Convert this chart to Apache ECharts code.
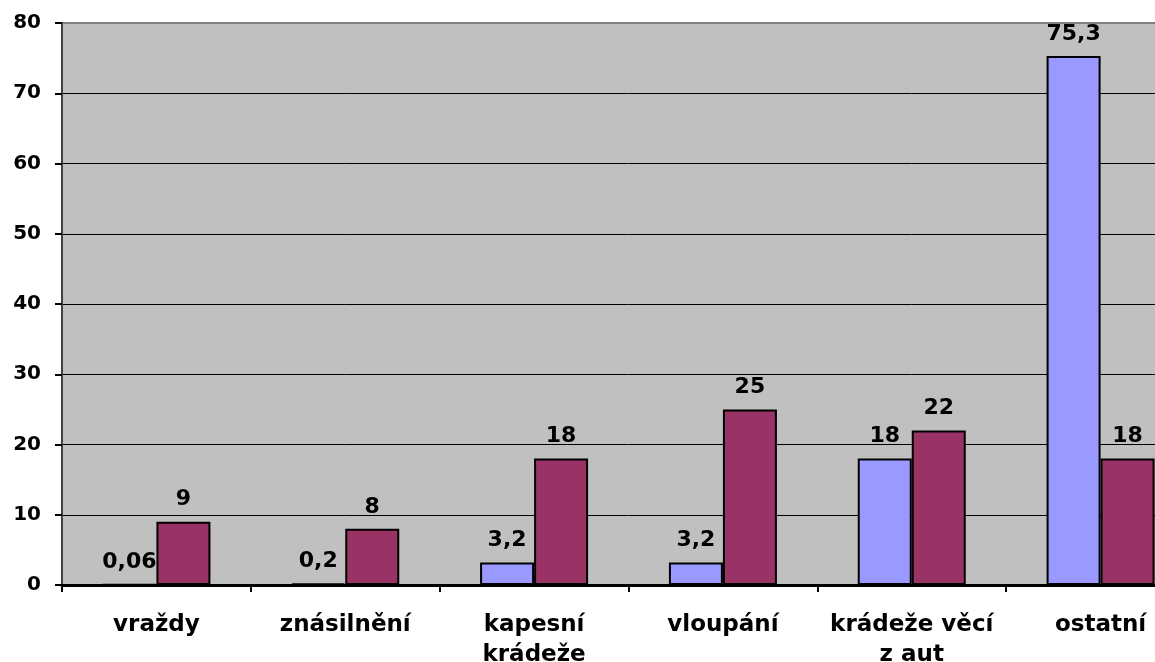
<!DOCTYPE html>
<html>
<head>
<meta charset="utf-8">
<script src="https://cdn.jsdelivr.net/npm/echarts@6/dist/echarts.min.js"></script>
<style>
  html, body { margin: 0; padding: 0; background: #fff; overflow: hidden; }
  #chart { width: 1195px; height: 662px; }
</style>
</head>
<body>
<div id="chart"></div>
<script>
// Crime categories and the two compared series
const categories = ['vraždy', 'znásilnění', 'kapesní\nkrádeže', 'vloupání', 'krádeže věcí\nz aut', 'ostatní'];
const seriesA = [0.06, 0.2, 3.2, 3.2, 18, 75.3];
const seriesB = [9, 8, 18, 25, 22, 18];
const yTicks = { min: 0, max: 80, step: 10 };

const fmt = v => String(v).replace('.', ',');
const FONT = '"DejaVu Sans", Arial, sans-serif';

const labelStyle = {
  show: true,
  position: 'top',
  distance: 11,
  fontFamily: FONT,
  fontSize: 22,
  fontWeight: 'bold',
  color: '#000',
  formatter: p => fmt(p.value)
};

const chart = echarts.init(document.getElementById('chart'), null, { renderer: 'canvas' });
chart.setOption({
  animation: false,
  backgroundColor: '#ffffff',
  grid: {
    left: 62, top: 23, bottom: 77, right: 0,
    outerBoundsMode: 'none',
    containLabel: false,
    show: true,
    backgroundColor: '#c0c0c0',
    borderColor: '#808080',
    borderWidth: 2
  },
  xAxis: {
    type: 'category',
    data: categories,
    boundaryGap: true,
    axisLine: { show: true, lineStyle: { color: '#000', width: 3 } },
    axisTick: { show: true, interval: 0, length: 7, lineStyle: { color: '#000', width: 2 } },
    axisLabel: {
      interval: 0,
      hideOverlap: false,
      margin: 25,
      fontFamily: FONT,
      fontSize: 23,
      fontWeight: 'bold',
      color: '#000',
      lineHeight: 30
    }
  },
  yAxis: {
    type: 'value',
    min: yTicks.min,
    max: yTicks.max,
    interval: yTicks.step,
    axisLine: { show: true, lineStyle: { color: '#404040', width: 2 } },
    axisTick: { show: true, length: 7, lineStyle: { color: '#000', width: 2 } },
    splitLine: { show: true, showMaxLine: false, lineStyle: { color: '#000', width: 1 } },
    axisLabel: {
      margin: 21,
      fontFamily: FONT,
      fontSize: 20,
      fontWeight: 'bold',
      color: '#000'
    }
  },
  series: [
    {
      name: 'řada 1',
      type: 'bar',
      data: seriesA,
      barWidth: 54,
      barGap: '0%',
      itemStyle: { color: '#9999ff', borderColor: '#000', borderWidth: 2 },
      label: labelStyle
    },
    {
      name: 'řada 2',
      type: 'bar',
      data: seriesB,
      barWidth: 54,
      barGap: '0%',
      itemStyle: { color: '#993366', borderColor: '#000', borderWidth: 2 },
      label: labelStyle
    }
  ]
});
</script>
</body>
</html>
